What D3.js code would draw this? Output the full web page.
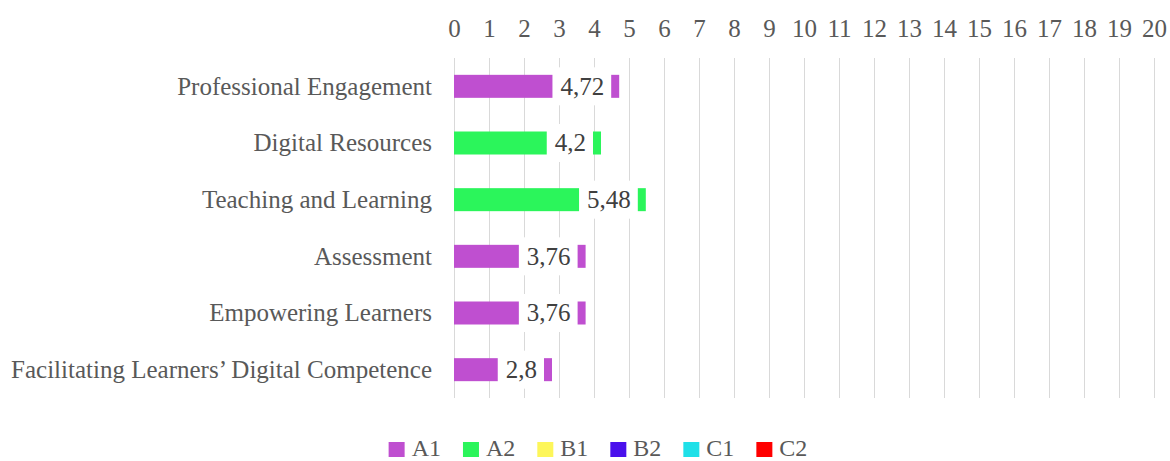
<!DOCTYPE html>
<html><head><meta charset="utf-8">
<script src="https://cdn.jsdelivr.net/npm/d3@7"></script>
<style>html,body{margin:0;padding:0;background:#fff;}svg{display:block;}</style>
</head><body>
<svg id="c" width="1170" height="461"></svg>
<script>
const categories = ["Professional Engagement","Digital Resources","Teaching and Learning","Assessment","Empowering Learners","Facilitating Learners\u2019 Digital Competence"];
const values = [4.72, 4.2, 5.48, 3.76, 3.76, 2.8];
const levels = ["A1","A2","A2","A1","A1","A1"];
const legendLevels = ["A1","A2","B1","B2","C1","C2"];
const levelColors = ["#BF4FD0","#2BF55B","#FDF65A","#4A10EC","#1FE0E8","#FF0000"];
const tickValues = d3.range(0, 21, 1);

const FONT = "'Liberation Serif', 'Times New Roman', serif";
const svg = d3.select("#c");
const x = d3.scaleLinear().domain([0, 20]).range([454, 1154]);
const y = d3.scaleBand().domain(categories).range([58, 398]).padding(0);
const color = d3.scaleOrdinal().domain(legendLevels).range(levelColors);
const barH = 23;

// gridlines
svg.append("g").selectAll("line").data(tickValues).join("line")
  .attr("x1", d => x(d) + 0.5).attr("x2", d => x(d) + 0.5)
  .attr("y1", 58).attr("y2", 398)
  .attr("stroke", "#d9d9d9").attr("stroke-width", 1);

// top axis
const ax = svg.append("g").attr("transform", "translate(0,37)")
  .call(d3.axisTop(x).tickValues(tickValues).tickSize(0).tickPadding(0).tickFormat(d3.format("d")));
ax.select(".domain").remove();
ax.selectAll("text").attr("font-family", FONT).attr("font-size", 25).attr("fill", "#595959").attr("dy", 0);

// category labels
svg.append("g").selectAll("text").data(categories).join("text")
  .attr("x", 432).attr("y", d => y(d) + y.bandwidth() / 2).attr("dy", "0.33em")
  .attr("text-anchor", "end").attr("font-family", FONT).attr("font-size", 25)
  .attr("fill", "#595959").text(d => d);

// bars
const data = categories.map((c, i) => ({c, v: values[i], lvl: levels[i]}));
svg.append("g").selectAll("rect").data(data).join("rect")
  .attr("x", x(0)).attr("y", d => y(d.c) + y.bandwidth() / 2 - barH / 2)
  .attr("width", d => x(d.v) - x(0)).attr("height", barH)
  .attr("fill", d => color(d.lvl));

// value labels with white boxes
const lg = svg.append("g").selectAll("g").data(data).join("g");
lg.each(function(d) {
  const g = d3.select(this);
  const cy = y(d.c) + y.bandwidth() / 2;
  const rect = g.append("rect").attr("fill", "#fff");
  const t = g.append("text").attr("font-family", FONT).attr("font-size", 25)
    .attr("fill", "#404040").attr("text-anchor", "end")
    .attr("x", x(d.v) - 15).attr("y", cy).attr("dy", "0.33em")
    .text(String(d.v).replace(".", ","));
  const w = t.node().getComputedTextLength();
  rect.attr("x", x(d.v) - 8 - w - 15).attr("width", w + 15)
    .attr("y", cy - 19).attr("height", 38);
});

// legend
const leg = svg.append("g");
let cx = 0;
legendLevels.forEach(l => {
  const g = leg.append("g");
  g.append("rect").attr("x", cx).attr("y", 442).attr("width", 16).attr("height", 15).attr("fill", color(l));
  const t = g.append("text").attr("x", cx + 23).attr("y", 456).attr("font-family", FONT)
    .attr("font-size", 24).attr("fill", "#595959").text(l);
  const w = t.node().getComputedTextLength();
  cx += 23 + w + 22;
});
const total = cx - 22;
leg.attr("transform", `translate(${598 - total / 2},0)`);
</script>
</body></html>
